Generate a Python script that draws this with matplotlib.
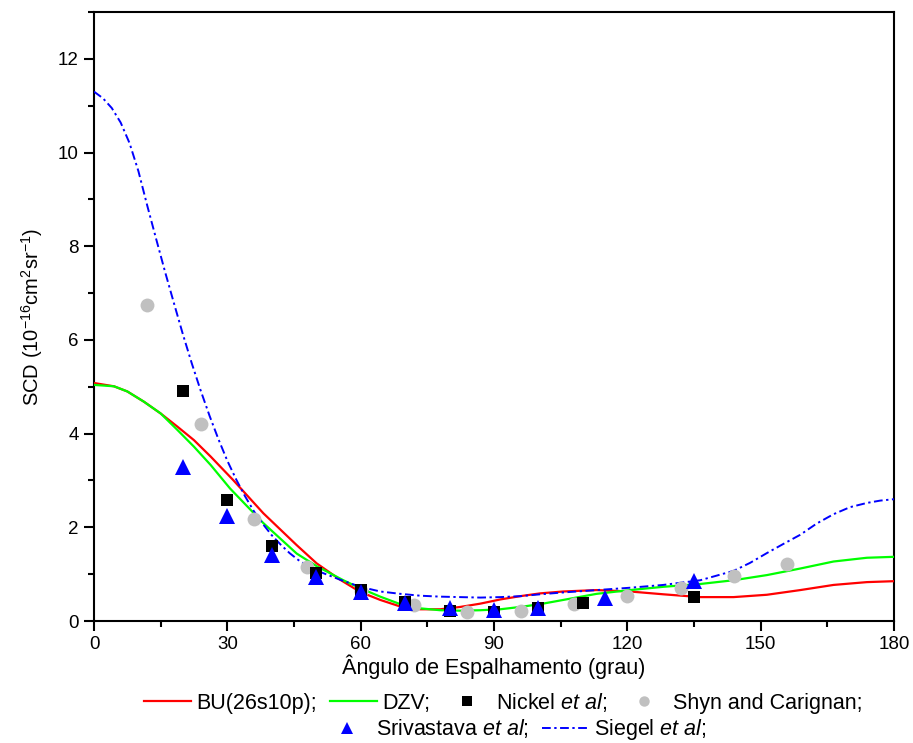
import matplotlib
matplotlib.use("Agg")
import matplotlib.pyplot as plt
from matplotlib.ticker import MultipleLocator

plt.rcParams['font.family'] = ['Liberation Sans', 'DejaVu Sans']
plt.rcParams['mathtext.fontset'] = 'custom'
plt.rcParams['mathtext.rm'] = 'Liberation Sans'
plt.rcParams['mathtext.it'] = 'Liberation Sans:italic'
plt.rcParams['mathtext.bf'] = 'Liberation Sans:bold'

# ---- data ----
bu_x = [0, 4.5, 7.5, 11.25, 15, 18.75, 22.5, 26.25, 31.3, 38.1, 45.6, 50.1, 55.4, 59.9,
        64.4, 68.9, 73.4, 77.9, 82.4, 86.9, 91.4, 95.9, 100.4, 105.6, 113.1, 120.6, 128.1,
        136.4, 143.9, 151.4, 158.9, 166.4, 173.9, 180]
bu_y = [5.08, 5.01, 4.90, 4.68, 4.43, 4.15, 3.86, 3.51, 3.01, 2.30, 1.62, 1.23, 0.88, 0.62,
        0.45, 0.31, 0.25, 0.25, 0.30, 0.37, 0.46, 0.53, 0.59, 0.63, 0.66, 0.63, 0.57,
        0.51, 0.51, 0.56, 0.66, 0.77, 0.83, 0.85]

dzv_x = [0, 4.5, 7.5, 11.25, 15, 18.75, 22.5, 26.25, 30.6, 38.1, 45.6, 50.1, 56.1, 59.9,
         64.4, 68.9, 73.4, 77.9, 82.4, 86.9, 91.4, 95.9, 100.4, 105.6, 113.1, 120.6, 128.1,
         136.4, 143.9, 151.4, 158.9, 166.4, 173.9, 180]
dzv_y = [5.04, 5.01, 4.90, 4.68, 4.43, 4.08, 3.72, 3.33, 2.83, 2.09, 1.44, 1.17, 0.87, 0.70,
         0.52, 0.36, 0.27, 0.23, 0.22, 0.23, 0.25, 0.30, 0.36, 0.45, 0.58, 0.66, 0.73,
         0.79, 0.87, 0.98, 1.12, 1.27, 1.35, 1.37]

siegel_x = [0, 2, 4, 6, 8, 10, 12, 14, 16, 18, 20, 22, 24, 26, 28, 30, 32, 34, 36, 38, 40,
            42, 44, 46, 48, 50, 55.4, 59.9, 64.4, 68.9, 73.4, 77.9, 82.4, 86.9, 91.4, 95.9,
            100.4, 105.6, 113.1, 120.6, 128.1, 136.4, 143.9, 147.6, 151.4, 155.2, 158.9,
            162.6, 166.4, 170.1, 173.9, 176.9, 180]
siegel_y = [11.30, 11.16, 10.95, 10.64, 10.20, 9.60, 8.86, 8.15, 7.45, 6.78, 6.12, 5.50,
            4.92, 4.38, 3.88, 3.42, 3.02, 2.66, 2.34, 2.07, 1.83, 1.63, 1.45, 1.30, 1.18,
            1.08, 0.88, 0.73, 0.63, 0.58, 0.54, 0.52, 0.51, 0.50, 0.51, 0.53, 0.57, 0.61,
            0.66, 0.71, 0.77, 0.87, 1.07, 1.24, 1.45, 1.65, 1.84, 2.08, 2.28, 2.43, 2.52,
            2.57, 2.60]

nickel_x = [20, 30, 40, 50, 60, 70, 80, 90, 100, 110, 135]
nickel_y = [4.92, 2.58, 1.60, 1.03, 0.66, 0.40, 0.21, 0.20, 0.27, 0.39, 0.51]

shyn_x = [12, 24, 36, 48, 60, 72, 84, 96, 108, 120, 132, 144, 156]
shyn_y = [6.75, 4.21, 2.18, 1.16, 0.65, 0.34, 0.19, 0.22, 0.36, 0.54, 0.70, 0.95, 1.22]

sriv_x = [20, 30, 40, 50, 60, 70, 80, 90, 100, 115, 135]
sriv_y = [3.28, 2.25, 1.41, 0.93, 0.61, 0.38, 0.27, 0.23, 0.27, 0.49, 0.86]

x_ticks = [0, 30, 60, 90, 120, 150, 180]
y_ticks = [0, 2, 4, 6, 8, 10, 12]

# ---- figure ----
fig = plt.figure(figsize=(9.13, 7.43), dpi=100)
ax = fig.add_axes([94/913, 1-621/743, 800/913, 609/743])

l_bu, = ax.plot(bu_x, bu_y, color='#FF0000', lw=1.6, zorder=3)
l_dzv, = ax.plot(dzv_x, dzv_y, color='#00FF00', lw=1.6, zorder=3)
l_sie, = ax.plot(siegel_x, siegel_y, color='#0000FF', lw=1.4,
                 linestyle=(0, (4.5, 1.8, 1.2, 1.8)), zorder=3)
m_shyn, = ax.plot(shyn_x, shyn_y, 'o', color='#C0C0C0', ms=10, mew=0, zorder=4)
m_nick, = ax.plot(nickel_x, nickel_y, 's', color='black', ms=9, mew=0, zorder=5)
m_sriv, = ax.plot(sriv_x, sriv_y, '^', color='#0000FF', ms=11, mew=0, zorder=6)

ax.set_xlim(0, 180)
ax.set_ylim(0, 13)
ax.set_xticks(x_ticks)
ax.set_yticks(y_ticks)
ax.xaxis.set_minor_locator(MultipleLocator(15))
ax.yaxis.set_minor_locator(MultipleLocator(1))
ax.tick_params(which='major', direction='out', length=7, width=1.5, labelsize=13.5, pad=4)
ax.tick_params(which='minor', direction='out', length=4, width=1.5)
ax.tick_params(top=False, right=False)
for s in ax.spines.values():
    s.set_linewidth(1.5)

ax.set_xlabel('Ângulo de Espalhamento (grau)', fontsize=15.5, labelpad=1)
ax.set_ylabel(r'SCD (10$^{-16}$cm$^{2}$sr$^{-1}$)', fontsize=14.5, labelpad=9)

leg_kw = dict(loc='center', frameon=False, fontsize=15.5, handlelength=2.2,
              handletextpad=0.25, columnspacing=0.6, borderaxespad=0, borderpad=0,
              markerscale=0.75)
leg1 = fig.legend([l_bu, l_dzv, m_nick, m_shyn],
                  ['BU(26s10p);', 'DZV;', r'Nickel $\mathit{et\ al}$;', 'Shyn and Carignan;'],
                  bbox_to_anchor=(0.551, 1-702/743), ncol=4, **leg_kw)
leg2 = fig.legend([m_sriv, l_sie],
                  [r'Srivastava $\mathit{et\ al}$;', r'Siegel $\mathit{et\ al}$;'],
                  bbox_to_anchor=(0.564, 1-730/743), ncol=2, **leg_kw)

fig.savefig('out.png', dpi=100)
